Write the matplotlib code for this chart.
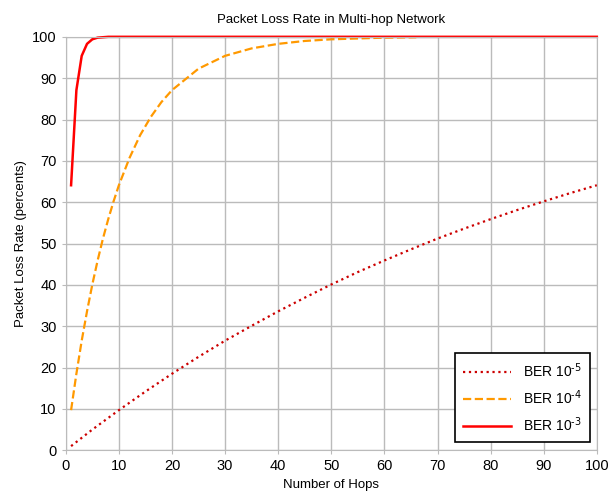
import matplotlib.pyplot as plt

# valores
hops_1e5 = [1, 5, 10, 15, 20, 25, 30, 35, 40, 45, 50, 55, 60, 65, 70, 75, 80, 85, 90, 95, 100]
loss_1e5 = [1.0, 5.0, 9.7, 14.2, 18.5, 22.6, 26.5, 30.1, 33.6, 36.9, 40.1, 43.1, 45.9, 48.6,
            51.2, 53.6, 55.9, 58.1, 60.2, 62.2, 64.1]

hops_1e4 = [1, 2, 3, 4, 5, 6, 7, 8, 9, 10, 12, 14, 16, 18, 20, 25, 30, 35, 40, 45, 50, 55, 60, 66]
loss_1e4 = [9.7, 18.5, 26.5, 33.6, 40.1, 45.9, 51.2, 55.9, 60.2, 64.1, 70.7, 76.2, 80.6, 84.2,
            87.1, 92.3, 95.4, 97.2, 98.3, 99.0, 99.4, 99.6, 99.8, 99.9]

hops_1e3 = [1, 2, 3, 4, 5, 6, 7, 8, 100]
loss_1e3 = [64.1, 87.1, 95.4, 98.3, 99.4, 99.8, 99.9, 100.0, 100.0]

plt.rcParams['font.family'] = ['Liberation Sans', 'DejaVu Sans']

fig = plt.figure(figsize=(6.09, 4.91), dpi=100)
ax = fig.add_axes([0.108, 0.083, 0.872, 0.842])

ax.plot(hops_1e5, loss_1e5, linestyle=':', color='#cc0000', linewidth=1.6,
        label=r'BER 10$^{\text{-5}}$')
ax.plot(hops_1e4, loss_1e4, linestyle='--', color='#ff9900', linewidth=1.6,
        label=r'BER 10$^{\text{-4}}$')
ax.plot(hops_1e3, loss_1e3, linestyle='-', color='#ff0000', linewidth=1.8,
        label=r'BER 10$^{\text{-3}}$', clip_on=False)

ax.set_xlim(0, 100)
ax.set_ylim(0, 100)
ax.set_xticks(range(0, 101, 10))
ax.set_yticks(range(0, 101, 10))
ax.grid(True, color='#bbbbbb', linewidth=1)
ax.set_axisbelow(True)
for s in ax.spines.values():
    s.set_color('#bbbbbb')
ax.tick_params(labelsize=10.5, color='#bbbbbb', length=3)

ax.set_title('Packet Loss Rate in Multi-hop Network', fontsize=9.5, pad=10)
ax.set_xlabel('Number of Hops', fontsize=9.5)
ax.set_ylabel('Packet Loss Rate (percents)', fontsize=9.5)

leg = ax.legend(loc='lower right', fontsize=10, fancybox=False, framealpha=1,
                edgecolor='black', handlelength=3.5, borderpad=0.6, labelspacing=0.6,
                borderaxespad=0, bbox_to_anchor=(0.987, 0.02))
leg.get_frame().set_linewidth(1.2)

fig.savefig('out.png', dpi=100)
